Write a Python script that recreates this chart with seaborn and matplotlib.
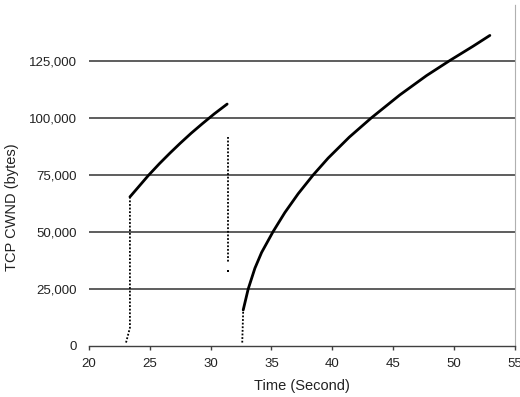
import matplotlib
matplotlib.use("Agg")
import matplotlib.pyplot as plt
import seaborn as sns
import pandas as pd
from matplotlib.ticker import FuncFormatter

# Data
seg1_time = [23.37, 24.0, 24.87, 25.8, 26.66, 27.5, 28.4, 29.3, 30.3, 31.36]
seg1_cwnd = [65400, 69300, 74700, 80000, 84600, 88900, 93300, 97400, 101800, 106100]

seg2_time = [32.68, 33.09, 33.64, 34.19, 35.14, 36.10, 37.20, 38.43, 39.66, 41.4,
             43.2, 45.55, 47.75, 49.66, 51.58, 52.95]
seg2_cwnd = [15800, 25000, 34100, 41000, 50200, 58500, 66800, 75000, 82400, 91600,
             100000, 110100, 118600, 125200, 131500, 136200]

drop1_time = [23.05, 23.37, 23.37]
drop1_cwnd = [1500, 8000, 65400]

drop2_time = [31.45, 31.45]
drop2_cwnd = [91700, 36800]
dot2_time = [31.45]
dot2_cwnd = [32900]

drop3_time = [32.6, 32.68]
drop3_cwnd = [1500, 15800]

x_ticks = [20, 25, 30, 35, 40, 45, 50, 55]
y_ticks = [0, 25000, 50000, 75000, 100000, 125000]

sns.set_theme(style="white")
plt.rcParams['font.family'] = ['Liberation Sans', 'DejaVu Sans']

fig = plt.figure(figsize=(5.20, 3.97), dpi=100)
ax = fig.add_axes([0.171, 0.1285, 0.819, 0.8615])

for y in y_ticks[1:]:
    ax.axhline(y, color="#505050", lw=1.3, zorder=1)

df1 = pd.DataFrame({"t": seg1_time, "c": seg1_cwnd})
df2 = pd.DataFrame({"t": seg2_time, "c": seg2_cwnd})
for d in (df1, df2):
    sns.lineplot(data=d, x="t", y="c", ax=ax, color="black", lw=2.0, sort=False,
                 estimator=None, zorder=3)
    ax.lines[-1].set_solid_joinstyle("round")

for tt, cc in [(drop1_time, drop1_cwnd), (drop2_time, drop2_cwnd), (drop3_time, drop3_cwnd)]:
    d = pd.DataFrame({"t": tt, "c": cc})
    sns.lineplot(data=d, x="t", y="c", ax=ax, color="black", lw=1.3, sort=False,
                 estimator=None, zorder=3).lines[-1].set_dashes([1, 1])

sns.scatterplot(x=dot2_time, y=dot2_cwnd, ax=ax, color="black", s=4, marker="s", linewidth=0, zorder=3)

ax.set_xlim(20, 55)
ax.set_ylim(0, 150000)
ax.set_xticks(x_ticks)
ax.set_yticks(y_ticks)
ax.yaxis.set_major_formatter(FuncFormatter(lambda v, p: f"{int(v):,}"))

for s in ["top", "left"]:
    ax.spines[s].set_visible(False)
ax.spines["bottom"].set_linestyle((0, (1, 1)))
ax.spines["bottom"].set_color("#404040")
ax.spines["bottom"].set_linewidth(1.0)
ax.spines["right"].set_linestyle((0, (1, 1)))
ax.spines["right"].set_color("#b0b0b0")
ax.spines["right"].set_linewidth(0.8)

ax.tick_params(axis="x", bottom=True, direction="out", length=3, width=1, color="#404040",
               labelsize=9.5, pad=6, labelcolor="#222222")
ax.tick_params(axis="y", left=False, labelsize=9.5, pad=2.5, labelcolor="#222222")

ax.set_xlabel("Time (Second)", fontsize=10.5, color="#222222")
ax.set_ylabel("TCP CWND (bytes)", fontsize=10.5, color="#222222")
ax.xaxis.set_label_coords(0.5, -0.0965)
ax.yaxis.set_label_coords(-0.164, 0.406)

fig.savefig("out.png", dpi=100)
